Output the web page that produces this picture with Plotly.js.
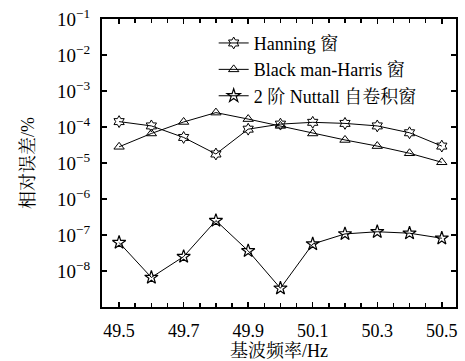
<!DOCTYPE html>
<html>
<head>
<meta charset="utf-8">
<script src="https://cdn.plot.ly/plotly-3.0.1.min.js"></script>
<style>html,body{margin:0;padding:0;background:#fff}#chart{width:465px;height:361px}</style>
</head>
<body>
<div id="chart"></div>
<script>
const freq = [49.5, 49.6, 49.7, 49.8, 49.9, 50.0, 50.1, 50.2, 50.3, 50.4, 50.5];
const hanningLog = [-3.85, -3.97, -4.29, -4.75, -4.06, -3.92, -3.87, -3.90, -3.97, -4.16, -4.53];
const blackmanLog = [-4.55, -4.18, -3.86, -3.60, -3.78, -3.97, -4.18, -4.36, -4.53, -4.73, -4.98];
const nuttallLog = [-7.21, -8.18, -7.60, -6.60, -7.44, -8.48, -7.25, -6.97, -6.91, -6.95, -7.09];
const seriesNames = ['Hanning 窗', 'Black man-Harris 窗', '2 阶 Nuttall 自卷积窗'];
const yTickVals = [1e-8, 1e-7, 1e-6, 1e-5, 1e-4, 1e-3, 1e-2, 1e-1];
const yTickText = ['10<sup>−8</sup>', '10<sup>−7</sup>', '10<sup>−6</sup>', '10<sup>−5</sup>', '10<sup>−4</sup>', '10<sup>−3</sup>', '10<sup>−2</sup>', '10<sup>−1</sup>'];
const xTickVals = [49.5, 49.7, 49.9, 50.1, 50.3, 50.5];
const xTickText = ['49.5', '49.7', '49.9', '50.1', '50.3', '50.5'];

const toVal = a => a.map(v => Math.pow(10, v));
const FONT = "'Liberation Serif', 'Noto Serif CJK SC', 'Noto Sans CJK SC', serif";

const traces = [
  {x: freq, y: toVal(hanningLog), name: seriesNames[0], mode: 'lines+markers',
   line: {color: '#000', width: 1}, marker: {symbol: 'hexagram-open', size: 9, color: '#000', line: {width: 1}}},
  {x: freq, y: toVal(blackmanLog), name: seriesNames[1], mode: 'lines+markers',
   line: {color: '#000', width: 1}, marker: {symbol: 'triangle-up-open', size: 9, color: '#000', line: {width: 1}}},
  {x: freq, y: toVal(nuttallLog), name: seriesNames[2], mode: 'lines+markers',
   line: {color: '#000', width: 1}, marker: {symbol: 'star-open', size: 10, color: '#000', line: {width: 1.2}}}
];

const layout = {
  width: 465, height: 361,
  margin: {l: 102, r: 9, t: 19, b: 54},
  paper_bgcolor: '#fff', plot_bgcolor: '#fff',
  font: {family: FONT, size: 18, color: '#000'},
  showlegend: true,
  legend: {x: 0.3155, y: 0.98, xanchor: 'left', yanchor: 'top', bgcolor: 'rgba(0,0,0,0)',
           font: {family: FONT, size: 18, color: '#000'}, tracegroupgap: 0},
  xaxis: {
    range: [49.447, 50.544], tickmode: 'array', tickvals: xTickVals, ticktext: xTickText,
    ticks: 'inside', ticklen: 5, tickwidth: 1.5, tickcolor: '#000', ticklabelstandoff: 6,
    tickfont: {family: FONT, size: 18},
    minor: {dtick: 0.05, tick0: 49.5, ticks: 'inside', ticklen: 4, tickwidth: 1.5, tickcolor: '#000', showgrid: false},
    showline: true, linecolor: '#000', linewidth: 2, mirror: 'ticks',
    showgrid: false, zeroline: false, automargin: false,
    title: {text: '基波频率/Hz', font: {family: FONT, size: 18}, standoff: 12}
  },
  yaxis: {
    type: 'log', range: [-9, -1], tickmode: 'array', tickvals: yTickVals, ticktext: yTickText,
    ticks: 'inside', ticklen: 5, tickwidth: 1.5, tickcolor: '#000', ticklabelstandoff: 6,
    tickfont: {family: FONT, size: 19},
    showline: true, linecolor: '#000', linewidth: 2, mirror: 'ticks',
    showgrid: false, zeroline: false, automargin: false,
    title: {text: '相对误差/%', font: {family: FONT, size: 18}, standoff: 18}
  }
};

Plotly.newPlot('chart', traces, layout, {staticPlot: true, displayModeBar: false});
</script>
</body>
</html>
